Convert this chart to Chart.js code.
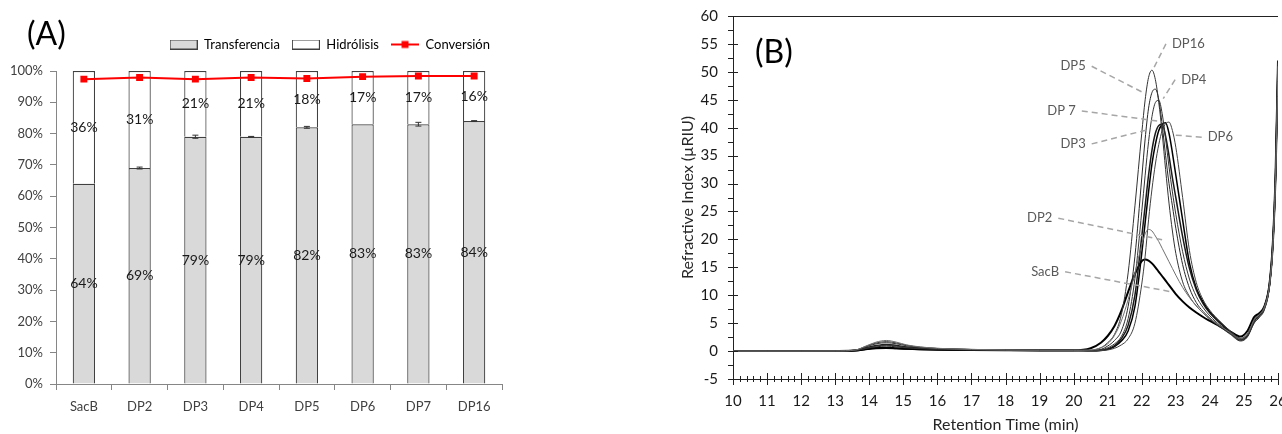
<!DOCTYPE html>
<html>
<head>
<meta charset="utf-8">
<script src="https://cdn.jsdelivr.net/npm/chart.js@4.4.0/dist/chart.umd.min.js"></script>
<style>
html, body { margin: 0; padding: 0; background: #fff; overflow: hidden; width: 1282px; height: 434px; }
#panelA { position: absolute; left: 0; top: 0; }
#panelB { position: absolute; left: 640px; top: 0; }
</style>
</head>
<body>
<canvas id="panelA" width="520" height="434"></canvas>
<canvas id="panelB" width="660" height="434"></canvas>
<script>
// (A) rendimiento por enzima
const muestras = ['SacB', 'DP2', 'DP3', 'DP4', 'DP5', 'DP6', 'DP7', 'DP16'];
const transferencia = [64, 69, 79, 79, 82, 83, 83, 84];
const hidrolisis = [36, 31, 21, 21, 18, 17, 17, 16];
const conversion = [97.4, 97.9, 97.4, 97.9, 97.6, 98.2, 98.4, 98.4];
const errorTransf = [0, 0.3, 0.5, 0.1, 0.3, 0, 0.6, 0.15];

// (B) cromatogramas, tiempo en min, IR en µRIU
const tiempo = [10, 11, 12, 13, 13.6, 13.9, 14.2, 14.5, 14.8, 15.1, 15.5, 16, 17, 18, 19, 20,
  20.5, 20.8, 21.0, 21.2, 21.4, 21.6, 21.8, 22.0, 22.1, 22.2, 22.3, 22.4, 22.5, 22.6, 22.7, 22.8, 22.9, 23.0,
  23.2, 23.4, 23.6, 23.8, 24.0, 24.3, 24.6, 24.9, 25.1, 25.3, 25.45, 25.6, 25.75, 25.85, 25.93, 26.0, 26.05];
const riSacB = [0, 0, 0, 0.02, 0.1, 0.35, 0.55, 0.6, 0.5, 0.4, 0.32, 0.25, 0.18, 0.14, 0.12, 0.12,
  0.5, 1.5, 2.7, 4.5, 7.2, 10.6, 13.8, 16.1, 16.4, 16.2, 15.7, 15.0, 14.2, 13.4, 12.6, 11.8, 11.0, 10.2,
  8.9, 7.8, 6.9, 6.1, 5.4, 4.4, 3.5, 2.6, 3.6, 6.1, 6.8, 8.0, 12.0, 19.5, 32, 52, 68];
const riDP2 = [0, 0, 0, 0.02, 0.2, 0.9, 1.6, 1.9, 1.6, 1.1, 0.75, 0.5, 0.3, 0.2, 0.15, 0.15,
  0.2, 0.6, 1.3, 2.8, 5.4, 9.2, 14.0, 19.0, 21.0, 21.8, 21.5, 20.6, 19.6, 18.4, 17.2, 16.0, 14.8, 13.6,
  11.4, 9.6, 8.1, 6.8, 5.8, 4.5, 3.3, 2.2, 3.0, 5.6, 6.5, 7.8, 11.8, 19.0, 31.5, 51, 68];
const riDP3 = [0, 0, 0, 0.02, 0.15, 0.6, 1.0, 1.2, 1.0, 0.75, 0.55, 0.4, 0.25, 0.18, 0.14, 0.14,
  0.05, 0.15, 0.4, 1.0, 2.2, 4.6, 10, 20.5, 26, 31.5, 36, 39, 40.4, 40.6, 38.5, 35, 31, 27.5,
  20.5, 14.8, 11.0, 8.5, 6.8, 5.0, 3.4, 2.1, 2.8, 5.4, 6.4, 7.8, 11.9, 19.3, 31.8, 51.5, 68];
const riDP4 = [0, 0, 0, 0.02, 0.18, 0.75, 1.3, 1.5, 1.3, 0.95, 0.65, 0.45, 0.28, 0.2, 0.15, 0.15,
  0.1, 0.2, 0.6, 1.3, 2.6, 5.8, 13, 25, 31.5, 37.5, 42, 44.5, 44.9, 42.5, 38, 33, 28.5, 24.5,
  17.8, 12.9, 9.8, 7.8, 6.3, 4.6, 3.2, 2.0, 2.7, 5.3, 6.3, 7.7, 11.8, 19.2, 31.5, 51.5, 68];
const riDP5 = [0, 0, 0, 0.02, 0.12, 0.45, 0.75, 0.9, 0.75, 0.55, 0.42, 0.32, 0.22, 0.16, 0.13, 0.13,
  0.1, 0.3, 0.9, 1.9, 3.6, 8, 17, 31, 38, 43.5, 46.3, 46.9, 45, 40.5, 35, 30, 26, 22,
  15.5, 11.3, 8.7, 7.1, 5.9, 4.4, 3.1, 1.9, 2.6, 5.1, 6.1, 7.5, 11.6, 19, 31, 51, 68];
const riDP6 = [0, 0, 0, 0.02, 0.2, 0.85, 1.45, 1.7, 1.45, 1.05, 0.7, 0.48, 0.3, 0.2, 0.15, 0.15,
  0.05, 0.1, 0.2, 0.5, 1.1, 2.2, 5, 12, 17, 23.5, 29, 33.5, 37, 39.5, 40.7, 41, 39.5, 36.5,
  27.5, 18, 12.3, 9.2, 7.3, 5.3, 3.6, 2.3, 3.0, 5.6, 6.6, 8.0, 12.1, 19.6, 32, 52, 68];
const riDP7 = [0, 0, 0, 0.02, 0.08, 0.3, 0.45, 0.5, 0.45, 0.38, 0.3, 0.24, 0.17, 0.13, 0.11, 0.11,
  0.05, 0.1, 0.3, 0.8, 1.8, 3.6, 8, 17.5, 23, 28.5, 33.5, 37, 39.5, 40.6, 40.9, 39, 35.5, 31.5,
  23.5, 15.8, 11.3, 8.8, 7.0, 5.1, 3.5, 2.2, 2.9, 5.5, 6.5, 7.9, 12, 19.5, 32, 52, 68];
const riDP16 = [0, 0, 0, 0.02, 0.14, 0.5, 0.9, 1.05, 0.9, 0.65, 0.48, 0.36, 0.23, 0.17, 0.13, 0.13,
  0.15, 0.6, 1.5, 3.0, 6.5, 14, 26, 39, 45, 49, 50.3, 48.6, 44.5, 39, 32.5, 26.5, 21.5, 17.5,
  12.4, 9.8, 8.1, 6.8, 5.7, 4.3, 3.0, 1.8, 2.5, 5.0, 6.0, 7.4, 11.5, 19, 31, 51, 68];

Chart.defaults.font.family = 'Lato';
Chart.defaults.animation = false;

// iconos de la leyenda
function icono(tipo) {
  const c = document.createElement('canvas');
  c.width = 28; c.height = 10;
  const g = c.getContext('2d');
  if (tipo === 'linea') {
    g.strokeStyle = '#ff0000'; g.lineWidth = 2;
    g.beginPath(); g.moveTo(0, 5); g.lineTo(28, 5); g.stroke();
    g.fillStyle = '#ff0000'; g.fillRect(10.5, 1.5, 7, 7);
  } else {
    g.fillStyle = tipo; g.fillRect(0.5, 0.5, 27, 9);
    g.strokeStyle = '#404040'; g.lineWidth = 1; g.strokeRect(0.5, 0.5, 27, 9);
  }
  return c;
}
const iconos = [icono('#d9d9d9'), icono('#ffffff'), icono('linea')];

// deja algo más de aire bajo la leyenda
const espacioLeyenda = {
  id: 'espacioLeyenda',
  afterInit(chart) {
    const fit = chart.legend.fit;
    chart.legend.fit = function () {
      fit.call(this);
      this.height += 10;
    };
  }
};

// porcentajes dentro de las barras y barras de error
const etiquetas = {
  id: 'etiquetas',
  afterDatasetsDraw(chart) {
    const ctx = chart.ctx;
    const y = chart.scales.y;
    ctx.save();
    ctx.strokeStyle = '#333';
    ctx.lineWidth = 1;
    chart.getDatasetMeta(0).data.forEach((bar, i) => {
      const e = errorTransf[i];
      if (!e) return;
      const y1 = y.getPixelForValue(transferencia[i] + e);
      const y2 = y.getPixelForValue(transferencia[i] - e);
      ctx.beginPath();
      ctx.moveTo(bar.x, y1); ctx.lineTo(bar.x, y2);
      ctx.moveTo(bar.x - 3, y1); ctx.lineTo(bar.x + 3, y1);
      ctx.moveTo(bar.x - 3, y2); ctx.lineTo(bar.x + 3, y2);
      ctx.stroke();
    });
    ctx.font = '14px Lato';
    ctx.fillStyle = '#1a1a1a';
    ctx.textAlign = 'center';
    ctx.textBaseline = 'middle';
    [0, 1].forEach(d => {
      const valores = chart.data.datasets[d].data;
      chart.getDatasetMeta(d).data.forEach((bar, i) => {
        ctx.fillText(valores[i] + '%', bar.x, (bar.y + bar.base) / 2);
      });
    });
    ctx.restore();
  },
  afterDraw(chart) {
    const ctx = chart.ctx;
    ctx.save();
    ctx.font = '32px Lato';
    ctx.fillStyle = '#000';
    ctx.textBaseline = 'middle';
    ctx.fillText('(A)', 27, 35);
    ctx.restore();
  }
};

new Chart(document.getElementById('panelA'), {
  type: 'bar',
  data: {
    labels: muestras,
    datasets: [{
      label: 'Transferencia',
      data: transferencia,
      backgroundColor: '#d9d9d9',
      borderColor: '#404040',
      borderWidth: 1.2,
      barPercentage: 0.4,
      categoryPercentage: 1,
      order: 1
    }, {
      label: 'Hidrólisis',
      data: hidrolisis,
      backgroundColor: '#ffffff',
      borderColor: '#404040',
      borderWidth: 1.2,
      barPercentage: 0.4,
      categoryPercentage: 1,
      order: 1
    }, {
      type: 'line',
      label: 'Conversión',
      data: conversion,
      borderColor: '#ff0000',
      backgroundColor: '#ff0000',
      borderWidth: 2,
      pointStyle: 'rect',
      pointRadius: 3.5,
      stack: 'conv',
      order: 0
    }]
  },
  options: {
    responsive: false,
    layout: { padding: { top: 26, right: 18, left: 0, bottom: 0 } },
    plugins: {
      tooltip: { enabled: false },
      legend: {
        position: 'top',
        align: 'end',
        labels: {
          usePointStyle: true,
          pointStyleWidth: 28,
          boxHeight: 10,
          padding: 12,
          color: '#262626',
          font: { size: 13 },
          generateLabels: chart => chart.data.datasets.map((ds, i) => ({
            text: ds.label, pointStyle: iconos[i], datasetIndex: i,
            fillStyle: 'transparent', strokeStyle: 'transparent', lineWidth: 0, hidden: false
          }))
        }
      }
    },
    scales: {
      x: {
        stacked: true,
        grid: { offset: true, drawOnChartArea: false, tickLength: 6, color: '#868686' },
        border: { color: '#868686' },
        ticks: { color: '#404040', font: { size: 13 }, padding: 9 },
        afterFit: s => { s.height = 50; }
      },
      y: {
        stacked: true,
        min: 0,
        max: 100,
        grid: { drawOnChartArea: false, tickLength: 6, color: '#868686' },
        border: { color: '#868686' },
        ticks: { stepSize: 10, color: '#404040', font: { size: 13 }, padding: 7, callback: v => v + '%' },
        afterFit: s => { s.width = 56; }
      }
    }
  },
  plugins: [espacioLeyenda, etiquetas]
});

// rótulos con línea discontinua hacia cada pico
const rotulos = [
  { texto: 'DP16', desde: [22.71, 55.0], hasta: [22.32, 50.3], lado: 1 },
  { texto: 'DP5', desde: [20.53, 51.0], hasta: [22.10, 46.1], lado: -1 },
  { texto: 'DP4', desde: [22.98, 48.6], hasta: [22.63, 45.2], lado: 1 },
  { texto: 'DP 7', desde: [20.24, 43.0], hasta: [22.58, 41.1], lado: -1 },
  { texto: 'DP3', desde: [20.53, 37.1], hasta: [22.15, 39.6], lado: -1 },
  { texto: 'DP6', desde: [23.76, 38.3], hasta: [22.93, 38.7], lado: 1 },
  { texto: 'DP2', desde: [19.55, 23.8], hasta: [22.63, 19.9], lado: -1 },
  { texto: 'SacB', desde: [19.75, 14.2], hasta: [22.88, 10.6], lado: -1 }
];

const marcas = {
  id: 'marcas',
  afterDatasetsDraw(chart) {
    const { ctx, scales: { x, y } } = chart;
    ctx.save();
    ctx.strokeStyle = '#a6a6a6';
    ctx.lineWidth = 1.5;
    ctx.setLineDash([6, 4]);
    ctx.font = '13px Lato';
    ctx.fillStyle = '#595959';
    ctx.textBaseline = 'middle';
    rotulos.forEach(r => {
      const x1 = x.getPixelForValue(r.desde[0]), y1 = y.getPixelForValue(r.desde[1]);
      const x2 = x.getPixelForValue(r.hasta[0]), y2 = y.getPixelForValue(r.hasta[1]);
      ctx.beginPath(); ctx.moveTo(x1, y1); ctx.lineTo(x2, y2); ctx.stroke();
      ctx.textAlign = r.lado > 0 ? 'left' : 'right';
      ctx.fillText(r.texto, x1 + r.lado * 6, y1);
    });
    ctx.restore();
  },
  afterDraw(chart) {
    const { ctx, scales: { x, y }, chartArea } = chart;
    ctx.save();
    ctx.strokeStyle = '#222';
    ctx.lineWidth = 1;
    ctx.beginPath();
    for (let i = 0; i <= 80; i++) {
      const px = Math.round(x.getPixelForValue(10 + i * 0.2)) + 0.5;
      const l = i % 5 === 0 ? 6 : 3;
      ctx.moveTo(px, chartArea.bottom - l);
      ctx.lineTo(px, chartArea.bottom + l);
    }
    for (let i = 0; i <= 26; i++) {
      const py = Math.round(y.getPixelForValue(-5 + i * 2.5)) + 0.5;
      ctx.moveTo(chartArea.left - 5, py);
      ctx.lineTo(chartArea.left + (i % 2 === 0 ? 5 : 0), py);
    }
    ctx.stroke();
    ctx.font = '32px Lato';
    ctx.fillStyle = '#000';
    ctx.textBaseline = 'middle';
    ctx.fillText('(B)', chartArea.left + 22, 53);
    ctx.restore();
  }
};

function serie(nombre, valores, color, grosor) {
  return {
    label: nombre,
    data: tiempo.map((t, i) => ({ x: t, y: valores[i] })),
    borderColor: color,
    borderWidth: grosor,
    pointRadius: 0,
    cubicInterpolationMode: 'monotone',
    fill: false
  };
}

new Chart(document.getElementById('panelB'), {
  type: 'line',
  data: {
    datasets: [
      serie('DP2', riDP2, '#707070', 1),
      serie('DP16', riDP16, '#333333', 1),
      serie('DP6', riDP6, '#404040', 1),
      serie('DP4', riDP4, '#333333', 1),
      serie('DP5', riDP5, '#262626', 1),
      serie('DP3', riDP3, '#1a1a1a', 1.5),
      serie('DP7', riDP7, '#000000', 1.5),
      serie('SacB', riSacB, '#000000', 2)
    ]
  },
  options: {
    responsive: false,
    layout: { padding: { top: 16, right: 22, left: 0, bottom: 0 } },
    plugins: { legend: { display: false }, tooltip: { enabled: false } },
    scales: {
      x: {
        type: 'linear',
        min: 10,
        max: 26,
        grid: { display: false, tickLength: 9, tickColor: 'transparent' },
        border: { color: '#222' },
        ticks: { stepSize: 1, padding: 4, color: '#1a1a1a', font: { size: 15 } },
        title: { display: true, text: 'Retention Time (min)', color: '#262626', font: { size: 16 }, padding: { top: 0, bottom: 0 } },
        afterFit: s => { s.height = 55; }
      },
      y: {
        min: -5,
        max: 60,
        grid: { tickLength: 10, tickColor: 'transparent', color: c => c.tick && c.tick.value === 60 ? '#222' : 'transparent' },
        border: { color: '#222' },
        ticks: { stepSize: 5, padding: 5, color: '#1a1a1a', font: { size: 15 } },
        title: { display: true, text: 'Refractive Index (µRIU)', color: '#262626', font: { size: 16 }, padding: { top: 38, bottom: 0 } },
        afterFit: s => { s.width = 93; }
      }
    }
  },
  plugins: [marcas]
});
</script>
</body>
</html>
